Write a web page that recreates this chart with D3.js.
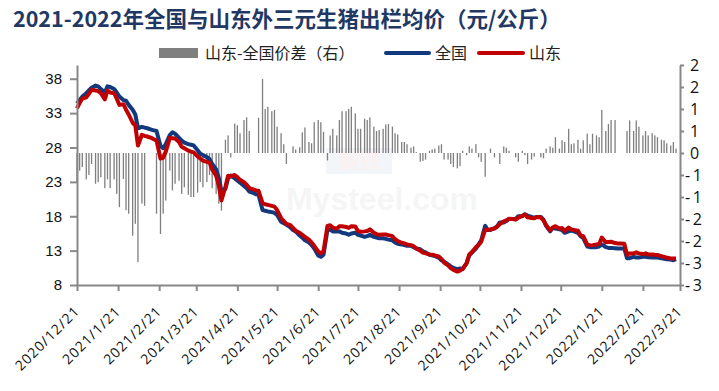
<!DOCTYPE html>
<html>
<head>
<meta charset="utf-8">
<script src="https://cdn.jsdelivr.net/npm/d3@7/dist/d3.min.js"></script>
<style>
  body { margin: 0; background: #fff; }
  svg { display: block; }
</style>
</head>
<body>
<svg width="719" height="391"></svg>
<script>
// week starts (Mondays); each week has Mon / Wed / Fri readings
var weeks = [
  "2020-12-21","2020-12-28","2021-01-04","2021-01-11","2021-01-18","2021-01-25",
  "2021-02-01","2021-02-08","2021-02-15","2021-02-22","2021-03-01","2021-03-08",
  "2021-03-15","2021-03-22","2021-03-29","2021-04-05","2021-04-12","2021-04-19",
  "2021-04-26","2021-05-03","2021-05-10","2021-05-17","2021-05-24","2021-05-31",
  "2021-06-07","2021-06-14","2021-06-21","2021-06-28","2021-07-05","2021-07-12",
  "2021-07-19","2021-07-26","2021-08-02","2021-08-09","2021-08-16","2021-08-23",
  "2021-08-30","2021-09-06","2021-09-13","2021-09-20","2021-09-27","2021-10-04",
  "2021-10-11","2021-10-18","2021-10-25","2021-11-01","2021-11-08","2021-11-15",
  "2021-11-22","2021-11-29","2021-12-06","2021-12-13","2021-12-20","2021-12-27",
  "2022-01-03","2022-01-10","2022-01-17","2022-01-24","2022-01-31","2022-02-07",
  "2022-02-14","2022-02-21","2022-02-28","2022-03-07","2022-03-14"
];
var dayOffsets = [0, 2, 4];

// 全国
var national = [
  34.4,34.9,35.4, 35.9,36.3,36.7, 37.0,36.9,36.5, 36.0,36.9,36.8, 36.5,36.0,35.4,
  34.9,34.8,34.2, 33.5,32.8,30.8, 31.0,30.9,30.8, 30.6,30.5,30.4, 28.2,27.9,28.5,
  29.8,30.2,30.0, 29.4,29.0,28.7, 28.5,28.4,28.3, 27.6,27.1,26.9, 26.6,26.3,25.6,
  24.8,23.6,21.6, 22.0,23.5,23.9, 23.5,23.2,22.9, 22.4,22.1,21.6, 21.4,21.2,21.1,
  18.9,18.8,18.7, 18.6,18.5,18.2, 17.2,17.0,16.8, 16.4,16.0,15.8, 15.2,14.9,14.5,
  14.2,13.8,13.3, 12.3,12.1,12.4, 16.0,16.1,15.8, 15.8,15.8,15.6, 15.5,15.3,15.5,
  15.6,15.3,15.2, 15.0,15.1,15.3, 15.0,14.9,14.8, 14.8,14.7,14.6, 14.5,14.2,14.0,
  13.9,13.8,13.7, 13.7,13.5,13.3, 13.2,12.9,12.75, 12.4,12.3,12.2, 12.0,11.6,11.4,
  11.0,10.7,10.5, 10.3,10.4,10.3, 11.2,12.3,12.7, 13.3,13.9,14.5, 16.6,16.0,16.0,
  16.3,16.5,17.1, 17.1,17.3,17.6, 17.6,17.6,18.0, 18.0,18.3,18.1, 17.9,17.8,17.9,
  17.9,17.5,16.6, 15.8,16.3,16.2, 16.1,16.0,15.6, 15.8,15.9,15.8, 15.6,15.1,14.8,
  13.6,13.5,13.5, 13.5,13.6,13.9, 13.5,13.4,13.4, 13.35,13.3,13.3, 13.3,11.9,11.9,
  12.1,12.0,12.0, 12.1,12.1,12.05, 12.0,12.0,12.0, 11.9,11.8,11.75, 11.7,11.6,11.75
];

// 山东
var shandong = [
  33.7,34.5,35.1, 35.3,35.8,36.4, 36.3,36.2,35.9, 35.0,36.3,36.0, 35.9,35.1,34.2,
  34.3,33.5,32.8, 31.6,31.2,28.3, 29.85,29.7,29.6, 29.4,29.2,29.0, 26.4,26.5,27.4,
  29.4,29.35,29.3, 28.8,28.1,27.9, 27.55,27.4,27.3, 26.7,26.4,26.1, 25.9,25.8,24.8,
  23.9,22.45,20.3, 22.3,23.9,23.8, 24.0,23.7,23.3, 22.95,22.6,22.1, 21.9,21.75,21.7,
  19.9,19.75,19.65, 19.5,19.4,18.9, 17.75,17.3,16.9, 16.7,16.3,15.9, 15.6,15.3,15.0,
  14.6,14.2,13.7, 12.9,12.6,12.9, 16.6,16.7,16.35, 16.2,16.55,16.55, 16.45,16.3,16.55,
  16.5,15.85,15.75, 15.8,15.85,16.1, 15.6,15.4,15.3, 15.35,15.35,15.25, 15.1,14.65,14.4,
  14.15,14.05,13.9, 13.8,13.65,13.3, 13.0,12.7,12.6, 12.45,12.4,12.3, 12.15,11.8,11.25,
  10.85,10.45,10.2, 9.95,10.1,10.35, 11.15,12.45,12.8, 13.5,13.8,14.3, 16.06,16.0,16.1,
  16.2,16.5,16.85, 17.25,17.4,17.65, 17.6,17.5,17.8, 18.05,18.25,17.85, 17.75,17.7,17.9,
  17.8,17.4,16.7, 15.95,16.4,16.55, 16.2,16.3,15.85, 16.35,16.1,16.0, 15.9,15.2,15.1,
  13.9,13.75,13.8, 13.9,13.95,14.9, 14.2,14.25,14.3, 14.1,14.05,14.05, 14.0,12.4,12.6,
  12.6,12.75,12.6, 12.5,12.6,12.45, 12.45,12.4,12.36, 12.2,12.1,11.97, 11.87,11.85,11.85
];

// 山东-全国价差（右）, null = no quote (holidays)
var spread = [
  -0.66,-0.40,-0.32, -0.60,-0.50,-0.25, -0.70,-0.66,-0.55, -0.80,-0.60,-0.80, -0.60,-0.93,-1.23,
  -0.59,-1.30,-1.38, -1.88,-1.61,-2.48, -1.15,-1.20,null, null,null,-1.38, -1.84,-1.38,-1.08,
  -0.40,-0.85,-0.70, -0.63,-0.93,-0.78, -0.95,-1.00,-1.00, -0.90,-0.66,-0.78, -0.66,-0.50,-0.80,
  -0.93,-1.15,-1.31, 0.30,0.40,-0.10, 0.67,0.63,0.45, 0.75,0.81,0.50, null,null,0.80,
  1.68,1.00,1.05, 0.95,0.98,0.60, 0.45,0.20,-0.25, 0.00,0.15,0.08, 0.13,0.47,0.58,
  0.25,0.22,0.70, 0.75,0.70,0.48, -0.17,0.40,0.55, 0.40,0.75,0.95, 0.95,1.00,1.05,
  0.90,0.55,0.55, 0.78,0.75,0.81, 0.60,0.50,0.52, 0.55,0.65,0.66, 0.60,0.45,0.42,
  0.25,0.25,0.20, 0.12,0.15,0.02, -0.20,-0.18,-0.15, 0.05,0.08,0.10, 0.17,0.20,-0.15,
  -0.15,-0.25,-0.32, -0.35,-0.30,0.05, -0.05,0.15,0.10, 0.20,-0.10,-0.20, -0.54,0.00,0.10,
  -0.10,0.00,-0.25, 0.15,0.12,0.05, 0.00,-0.10,-0.20, 0.05,-0.05,-0.25, -0.15,-0.08,0.00,
  -0.10,-0.12,0.10, 0.15,0.12,0.36, 0.10,0.29,0.25, 0.55,0.20,0.22, 0.30,0.10,0.29,
  0.44,0.20,0.44, 0.40,0.36,0.98, 0.50,0.66,0.75, 0.75,null,null, null,0.50,0.74,
  0.50,0.74,0.60, 0.40,0.50,0.40, 0.45,0.40,0.36, 0.30,0.29,0.22, 0.17,0.25,0.10
];

var tickLabels = [
  "2020/12/21","2021/1/21","2021/2/21","2021/3/21","2021/4/21","2021/5/21",
  "2021/6/21","2021/7/21","2021/8/21","2021/9/21","2021/10/21","2021/11/21",
  "2021/12/21","2022/1/21","2022/2/21","2022/3/21"
];
var leftTicks = [8, 13, 18, 23, 28, 33, 38];
var rightTicks = [-3, -2.5, -2, -1.5, -1, -0.5, 0, 0.5, 1, 1.5, 2];

var svg = d3.select("svg");
var parseDay = d3.timeParse("%Y-%m-%d"),
    parseTick = d3.timeParse("%Y/%m/%d");

var data = [];
weeks.forEach(function(w, i) {
  dayOffsets.forEach(function(o, j) {
    var k = i * 3 + j;
    data.push({
      date: d3.timeDay.offset(parseDay(w), o),
      n: national[k],
      s: shandong[k],
      d: spread[k]
    });
  });
});

var x = d3.scaleTime()
    .domain([parseTick(tickLabels[0]), parseTick(tickLabels[tickLabels.length - 1])])
    .range([77, 680]);
var yL = d3.scaleLinear().domain([8, 40]).range([285, 65]);
var yR = d3.scaleLinear().domain([-3, 2]).range([285, 65]);

// title
svg.append("text")
    .attr("x", 13).attr("y", 27)
    .attr("fill", "#1f3864")
    .style("font-family", "'Noto Sans CJK SC', sans-serif")
    .style("font-weight", "bold")
    .style("font-size", "21.5px")
    .text("2021-2022年全国与山东外三元生猪出栏均价（元/公斤）");

// legend
var legendFont = "'Noto Sans CJK SC', sans-serif";
var lg = svg.append("g");
lg.append("rect").attr("x", 159).attr("y", 48).attr("width", 39).attr("height", 10).attr("fill", "#7f7f7f");
lg.append("text").attr("x", 205).attr("y", 59).text("山东-全国价差（右）");
lg.append("line").attr("x1", 386).attr("x2", 429).attr("y1", 53).attr("y2", 53)
    .attr("stroke", "#12387d").attr("stroke-width", 4).attr("stroke-linecap", "round");
lg.append("text").attr("x", 435).attr("y", 59).text("全国");
lg.append("line").attr("x1", 479).attr("x2", 523).attr("y1", 53).attr("y2", 53)
    .attr("stroke", "#c00000").attr("stroke-width", 4).attr("stroke-linecap", "round");
lg.append("text").attr("x", 529).attr("y", 59).text("山东");
lg.selectAll("text")
    .attr("fill", "#222")
    .style("font-family", legendFont)
    .style("font-size", "16px");

// faint watermark
var wm = svg.append("g").attr("opacity", 0.05);
wm.append("rect").attr("x", 326).attr("y", 148).attr("width", 66).attr("height", 26).attr("fill", "#1f4e9e");
wm.append("text").attr("x", 359).attr("y", 168).attr("text-anchor", "middle")
    .attr("fill", "#c00000")
    .style("font-family", legendFont).style("font-size", "22px").style("font-weight", "bold")
    .text("钢铁");
wm.append("text").attr("x", 382).attr("y", 210).attr("text-anchor", "middle")
    .attr("fill", "#555")
    .style("font-family", "'Liberation Sans', Arial, sans-serif").style("font-size", "32px").style("font-weight", "bold")
    .text("Mysteel.com");

// spread bars (right axis)
svg.append("g")
  .selectAll("rect")
  .data(data.filter(function(d) { return d.d != null && d.d !== 0; }))
  .enter().append("rect")
    .attr("x", function(d) { return x(d.date) - 0.65; })
    .attr("width", 1.3)
    .attr("y", function(d) { return Math.min(yR(0), yR(d.d)); })
    .attr("height", function(d) { return Math.abs(yR(d.d) - yR(0)); })
    .attr("fill", "#7f7f7f");

// price lines
var lineN = d3.line()
    .x(function(d) { return x(d.date); })
    .y(function(d) { return yL(d.n); });
var lineS = d3.line()
    .x(function(d) { return x(d.date); })
    .y(function(d) { return yL(d.s); });

svg.append("path").datum(data)
    .attr("d", lineN)
    .attr("fill", "none").attr("stroke", "#12387d")
    .attr("stroke-width", 4).attr("stroke-linejoin", "round");
svg.append("path").datum(data)
    .attr("d", lineS)
    .attr("fill", "none").attr("stroke", "#c00000")
    .attr("stroke-width", 4).attr("stroke-linejoin", "round");

// axes
var axisColor = "#888";

var gl = svg.append("g")
    .attr("transform", "translate(77,0)")
    .call(d3.axisLeft(yL).tickValues(leftTicks).tickSize(7).tickSizeOuter(0).tickPadding(8));
gl.selectAll("text")
    .style("font-family", "'Liberation Sans', Arial, sans-serif")
    .style("font-size", "15px").attr("fill", "#111");

var gr = svg.append("g")
    .attr("transform", "translate(680,0)")
    .call(d3.axisRight(yR).tickValues(rightTicks).tickSize(4).tickSizeOuter(0)
      .tickFormat(function(v) {
        var r = Math.sign(v) * Math.round(Math.abs(v));
        return r < 0 ? "-\u2009" + (-r) : String(Math.abs(r));
      }));
gr.selectAll("text")
    .attr("x", function(d) { return d < 0 ? 5 : 10; })
    .style("font-family", "'Open Sans', sans-serif")
    .style("font-size", "16px").attr("fill", "#111");

var gx = svg.append("g")
    .attr("transform", "translate(0,285)")
    .call(d3.axisBottom(x)
      .tickValues(tickLabels.map(parseTick))
      .tickFormat(function(d, i) { return tickLabels[i]; })
      .tickSize(6).tickSizeOuter(0));
gx.selectAll("text")
    .attr("x", 0).attr("y", 0).attr("dy", 0)
    .attr("text-anchor", "end")
    .attr("transform", "translate(3,27) rotate(-45)")
    .style("font-family", "'Open Sans', sans-serif")
    .style("font-size", "14px")
    .style("letter-spacing", "1px")
    .attr("fill", "#111");

svg.selectAll(".domain, .tick line")
    .attr("stroke", axisColor)
    .attr("stroke-width", 2);
</script>
</body>
</html>
